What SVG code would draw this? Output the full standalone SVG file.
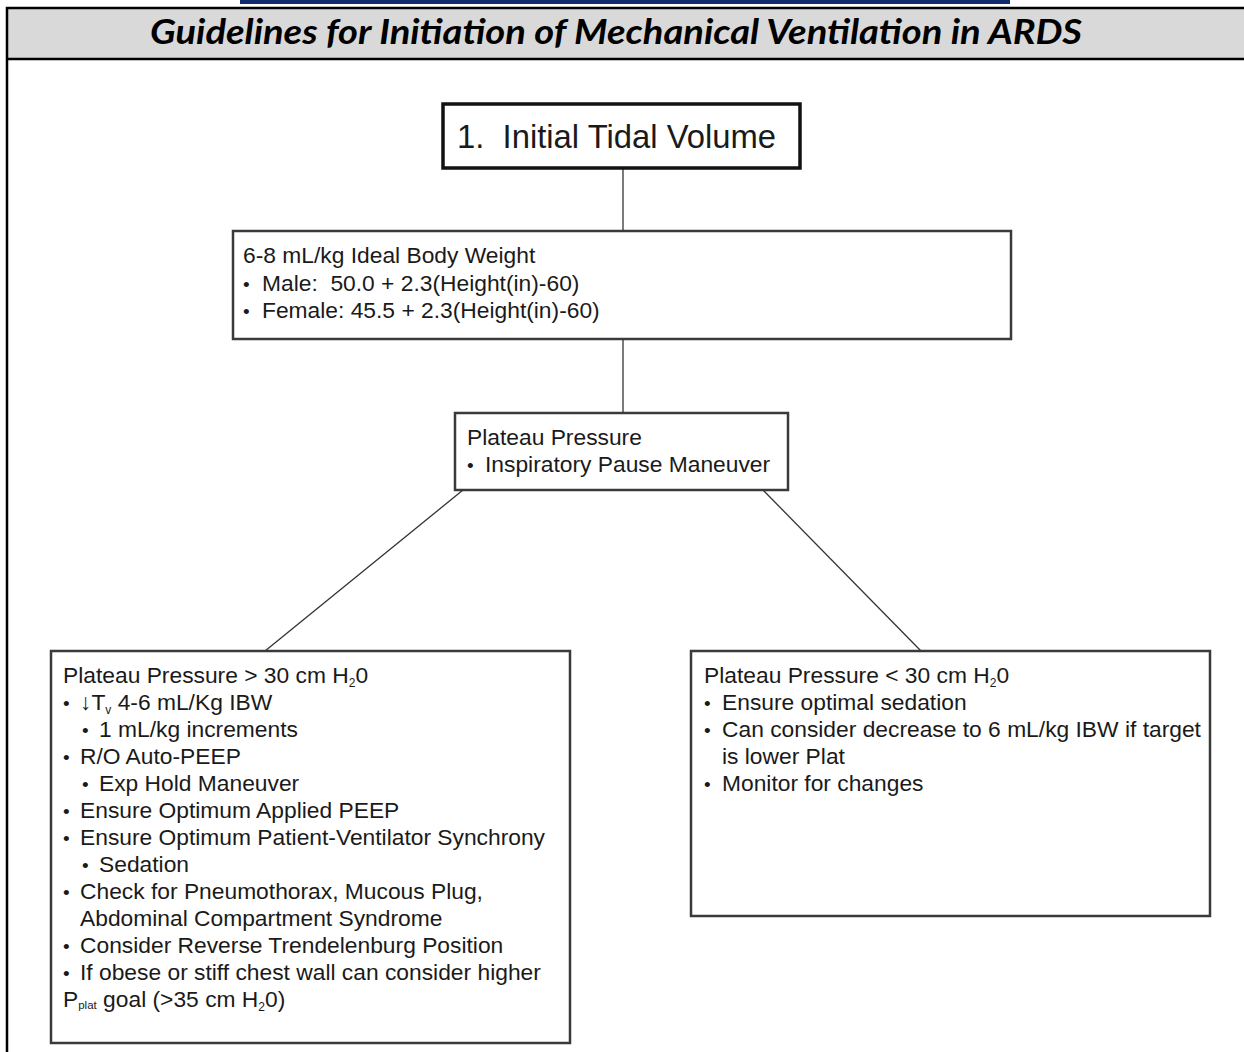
<svg xmlns="http://www.w3.org/2000/svg" width="1244" height="1052" viewBox="0 0 1244 1052">
  <style>
    .frame { fill: none; stroke: #000; stroke-width: 2.5; }
    .box { fill: #fff; stroke: #3a3a3a; stroke-width: 2.5; }
    .box-main { fill: #fff; stroke: #111; stroke-width: 3.5; }
    .link { fill: none; stroke: #333; stroke-width: 1.3; }
    .t { font-family: "Liberation Sans", Arial, Helvetica, sans-serif; font-size: 22.8px; fill: #1a1a1a; }
    .big { font-size: 32.8px; }
    .dot { font-size: 19px; }
    .sub { font-size: 12px; }
    .subs { font-size: 11.5px; }
    .title { font-family: Lato, "Open Sans", "Liberation Sans", sans-serif; font-size: 34px; font-weight: bold; font-style: italic; fill: #000; }
  </style>

  <!-- page background and header band -->
  <rect x="0" y="0" width="1244" height="1052" fill="#fff"/>
  <rect x="240" y="0" width="770" height="4" fill="#0f2d6e"/>
  <rect x="7" y="8" width="1240" height="51" fill="#d9d9d9"/>
  <path class="frame" d="M7,1052 V8 H1244 M7,59 H1244"/>
  <text class="title" x="616" y="44" text-anchor="middle" textLength="932" lengthAdjust="spacingAndGlyphs">Guidelines for Initiation of Mechanical Ventilation in ARDS</text>

  <!-- connectors -->
  <g id="connectors">
    <line class="link" x1="623" y1="168" x2="623" y2="231"/>
    <line class="link" x1="623" y1="339" x2="623" y2="413"/>
    <line class="link" x1="463" y1="490" x2="265" y2="651"/>
    <line class="link" x1="763" y1="490" x2="921" y2="651"/>
  </g>

  <!-- step 1 -->
  <g id="node-initial-tv">
    <rect class="box-main" x="443" y="104" width="357" height="64"/>
    <text class="t big" x="457" y="148">1.&#160; Initial Tidal Volume</text>
  </g>

  <!-- ideal body weight -->
  <g id="node-ibw">
    <rect class="box" x="233" y="231" width="778" height="108"/>
    <text class="t" x="243" y="263">6-8 mL/kg Ideal Body Weight</text>
    <text class="t" x="243" y="291"><tspan class="dot">•</tspan><tspan x="262">Male:&#160; 50.0 + 2.3(Height(in)-60)</tspan></text>
    <text class="t" x="243" y="318"><tspan class="dot">•</tspan><tspan x="262">Female: 45.5 + 2.3(Height(in)-60)</tspan></text>
  </g>

  <!-- plateau pressure check -->
  <g id="node-plateau">
    <rect class="box" x="455" y="413" width="333" height="77"/>
    <text class="t" x="467" y="445">Plateau Pressure</text>
    <text class="t" x="467" y="472"><tspan class="dot">•</tspan><tspan x="485">Inspiratory Pause Maneuver</tspan></text>
  </g>

  <!-- plateau above 30 -->
  <g id="node-high">
    <rect class="box" x="51" y="651" width="519" height="392"/>
    <text class="t" x="63" y="683">Plateau Pressure &gt; 30 cm H<tspan class="sub" dy="4">2</tspan><tspan dy="-4">0</tspan></text>
    <text class="t" x="63" y="710"><tspan class="dot">•</tspan><tspan x="80">↓T</tspan><tspan class="sub" dy="4">v</tspan><tspan dy="-4"> 4-6 mL/Kg IBW</tspan></text>
    <text class="t" x="82" y="737"><tspan class="dot">•</tspan><tspan x="99">1 mL/kg increments</tspan></text>
    <text class="t" x="63" y="764"><tspan class="dot">•</tspan><tspan x="80">R/O Auto-PEEP</tspan></text>
    <text class="t" x="82" y="791"><tspan class="dot">•</tspan><tspan x="99">Exp Hold Maneuver</tspan></text>
    <text class="t" x="63" y="818"><tspan class="dot">•</tspan><tspan x="80">Ensure Optimum Applied PEEP</tspan></text>
    <text class="t" x="63" y="845"><tspan class="dot">•</tspan><tspan x="80">Ensure Optimum Patient-Ventilator Synchrony</tspan></text>
    <text class="t" x="82" y="872"><tspan class="dot">•</tspan><tspan x="99">Sedation</tspan></text>
    <text class="t" x="63" y="899"><tspan class="dot">•</tspan><tspan x="80">Check for Pneumothorax, Mucous Plug,</tspan></text>
    <text class="t" x="80" y="926">Abdominal Compartment Syndrome</text>
    <text class="t" x="63" y="953"><tspan class="dot">•</tspan><tspan x="80">Consider Reverse Trendelenburg Position</tspan></text>
    <text class="t" x="63" y="980"><tspan class="dot">•</tspan><tspan x="80">If obese or stiff chest wall can consider higher</tspan></text>
    <text class="t" x="63" y="1007">P<tspan class="subs" dy="2">plat</tspan><tspan dy="-2"> goal (&gt;35 cm H</tspan><tspan class="sub" dy="4">2</tspan><tspan dy="-4">0)</tspan></text>
  </g>

  <!-- plateau below 30 -->
  <g id="node-low">
    <rect class="box" x="691" y="651" width="519" height="265"/>
    <text class="t" x="704" y="683">Plateau Pressure &lt; 30 cm H<tspan class="sub" dy="4">2</tspan><tspan dy="-4">0</tspan></text>
    <text class="t" x="704" y="710"><tspan class="dot">•</tspan><tspan x="722">Ensure optimal sedation</tspan></text>
    <text class="t" x="704" y="737"><tspan class="dot">•</tspan><tspan x="722">Can consider decrease to 6 mL/kg IBW if target</tspan></text>
    <text class="t" x="722" y="764">is lower Plat</text>
    <text class="t" x="704" y="791"><tspan class="dot">•</tspan><tspan x="722">Monitor for changes</tspan></text>
  </g>
</svg>
